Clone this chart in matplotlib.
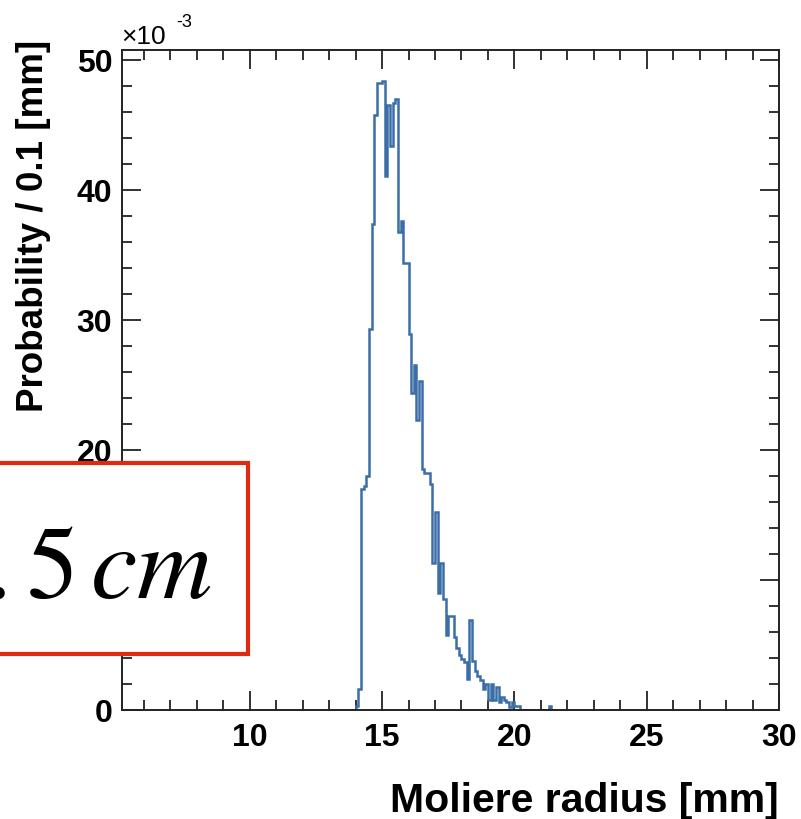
import matplotlib
matplotlib.use("Agg")
import matplotlib.pyplot as plt
import numpy as np
from matplotlib.ticker import MultipleLocator, FixedLocator
from matplotlib.patches import Rectangle

plt.rcParams["font.family"] = ["Liberation Sans", "DejaVu Sans"]

# Moliere radius histogram, 0.1 mm bins starting at 13.9 mm
bin_lo = 13.9
bin_width = 0.1
prob_e3 = [
    0.0, 0.3, 1.6, 17.0, 17.2, 18.0, 29.3, 37.4, 45.8, 48.2,
    48.2, 48.4, 41.1, 46.5, 43.4, 46.7, 47.0, 36.8, 37.6, 34.4,
    34.4, 28.9, 24.4, 26.5, 22.3, 25.3, 18.5, 18.2, 18.2, 17.4,
    11.3, 15.2, 9.0, 11.3, 8.5, 5.8, 7.2, 7.2, 5.6, 4.8,
    4.2, 3.9, 3.7, 2.4, 6.9, 3.8, 3.0, 2.6, 2.3, 1.6,
    2.0, 0.8, 2.0, 0.8, 1.8, 0.6, 1.0, 0.8, 0.6, 0.2,
    0.6, 0.3, 0.3, 0.0, 0.0, 0.0, 0.0, 0.0, 0.0, 0.0,
    0.0, 0.0, 0.0, 0.0, 0.3, 0.0,
]
edges = bin_lo + bin_width * np.arange(len(prob_e3) + 1)

x_ticks = [10, 15, 20, 25, 30]
y_ticks = [0, 10, 20, 30, 40, 50]

W, H = 801, 820
fig = plt.figure(figsize=(W / 100, H / 100), dpi=100)
ax = fig.add_axes([122 / W, 109 / H, 657 / W, 660.5 / H])

ax.stairs(prob_e3, edges, color="#3b6ea7", lw=1.8, baseline=0, zorder=2)

ax.set_xlim(5.17, 30)
ax.set_ylim(0, 50.8)
ax.xaxis.set_major_locator(FixedLocator(x_ticks))
ax.xaxis.set_minor_locator(MultipleLocator(1))
ax.yaxis.set_major_locator(FixedLocator(y_ticks))
ax.yaxis.set_minor_locator(MultipleLocator(2))
ax.tick_params(which="both", direction="in", top=True, right=True, width=1.3, colors="#222222")
ax.tick_params(which="major", length=14)
ax.tick_params(which="minor", length=7.5)
ax.tick_params(axis="x", which="major", labelsize=23, pad=9)
ax.tick_params(axis="y", which="major", labelsize=23, pad=7)
for lab in ax.get_xticklabels() + ax.get_yticklabels():
    lab.set_fontweight("bold")
    lab.set_color("black")
for s in ax.spines.values():
    s.set_linewidth(1.4)
    s.set_color("#222222")

ax.set_xlabel("Moliere radius [mm]", fontsize=29.5, fontweight="bold", loc="right")
ax.xaxis.set_label_coords(1.0, -0.108)
ax.set_ylabel("Probability / 0.1 [mm]", fontsize=26.5, fontweight="bold", loc="top")
ax.yaxis.set_label_coords(-0.108, 1.016)

fig.text(121 / W, 1 - 44 / H, "\u00d710", fontsize=19, ha="left", va="baseline")
fig.text(176 / W, 1 - 27 / H, "-3", fontsize=13, ha="left", va="baseline")

# red box covering part of the axis
box = Rectangle((-0.01, (H - 655) / H), (248 + 8) / W, (655 - 464) / H,
                transform=fig.transFigure, facecolor="white", edgecolor="#dd2a10",
                lw=3, zorder=10)
fig.add_artist(box)
fig.text(212 / W, 1 - 598 / H, r"$.5\,cm$", fontsize=75, math_fontfamily="stix",
         ha="right", va="baseline", zorder=11)

fig.savefig("out.png", dpi=100)
